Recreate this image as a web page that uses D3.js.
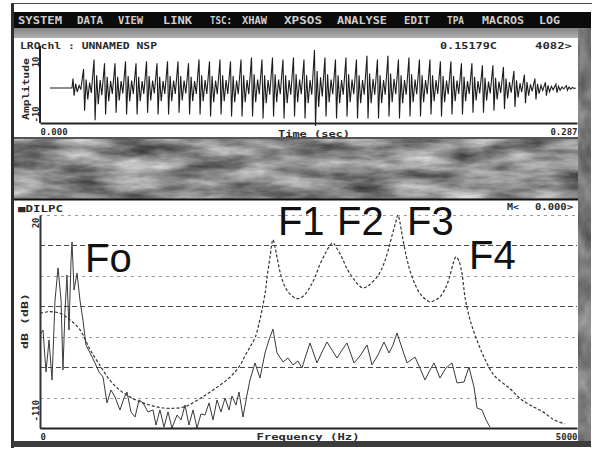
<!DOCTYPE html>
<html><head><meta charset="utf-8">
<script src="https://cdn.jsdelivr.net/npm/d3@7"></script>
<style>html,body{margin:0;padding:0;background:#fff;overflow:hidden}</style>
</head><body><svg id="c" width="597" height="454"></svg>
<script>
// ---------- data ----------
const menuItems = ["SYSTEM","DATA","VIEW","LINK","TSC:","XHAW","XPSOS","ANALYSE","EDIT","TPA","MACROS","LOG"];

// waveform: time axis (s), amplitude axis, per-cycle peak / trough amplitude
const timeDomain = [0, 0.287];
const ampDomain = [-10, 10];
const timeTicks = ["0.000", "0.287"];
const ampTicks = ["10", "-10"];
const waveStart = 0.0053;
const onsetTime = 0.0171;
const periodTime = 0.00561;
const cycleHigh = [2.5,5,7.5,6.5,6.5,7,6.5,7,6.5,7,7,6.5,7.5,7,7.5,7,7.5,8,7.5,8,7.5,8,7.5,10,8,7.5,8,7.5,8.5,7.5,8.5,7.5,8,7.5,7.5,7,7,6.5,6.5,6,6,5.5,4.5,3.5,2.5,1.5,1,0.6];
const cycleLow = [-2,-6,-8.5,-7,-6.5,-7,-7,-6.5,-7,-7,-6.5,-7,-7,-7.5,-7,-7.5,-7.5,-7.5,-8,-7.5,-8,-7.5,-8,-10,-7.5,-8,-7.5,-8,-8,-8,-7.5,-8,-7.5,-7.5,-7,-7.5,-7,-7,-6.5,-6.5,-6,-5.5,-5,-4,-3,-2,-1.2,-0.6];
// one glottal period: [phase, relative excursion]
const cycleShape = [[0.1,1],[0.2,-1],[0.35,0.45],[0.5,-0.5],[0.68,0.28],[0.84,-0.22]];

// spectrum: frequency (Hz), level (dB)
const freqDomain = [0, 5000];
const levelDomain = [-110, 20];
const freqTicks = ["0", "5000"];
const levelTicks = ["20", "-110"];
const specFreq = [0,28,56,84,112,140,168,196,214,233,251,270,289,298,317,345,372,400,428,466,512,549,587,624,661,698,745,782,810,847,885,922,959,1006,1052,1080,1117,1155,1192,1229,1276,1313,1350,1387,1425,1462,1499,1536,1574,1611,1648,1685,1723,1760,1788,1825,1853,1890,1927,1955,2002,2048,2095,2132,2169,2207,2263,2309,2356,2402,2439,2477,2514,2579,2626,2672,2719,2765,2812,2858,2924,2980,3045,3091,3147,3203,3250,3287,3324,3361,3417,3454,3492,3538,3585,3631,3669,3724,3780,3836,3883,3948,3994,4041,4069,4116,4153,4190];
const specLevel = [-53.2,-50.2,-75.8,-56.3,-80.7,-31.9,-12.3,-31.9,-74.6,-38,-16.6,-50.2,-7.5,3.5,-25.8,-15.4,-31.9,-44.1,-59.3,-64.2,-70.3,-75.8,-78.9,-94.7,-86.8,-91.1,-99,-91.7,-88,-100.2,-103.3,-92.9,-94.7,-100.2,-99,-108.2,-99,-109.4,-100.2,-110,-102.1,-105.1,-96,-108.2,-99,-110,-101.4,-102.1,-94.7,-105.1,-92.9,-100.2,-91.7,-99,-90.5,-96,-88,-103.3,-89.9,-80.7,-70.3,-79.5,-64.2,-56.3,-49.6,-64.2,-69.7,-67.3,-71.5,-69.1,-73.4,-65.4,-58.1,-70.3,-63.6,-57.5,-62.4,-67.3,-62.4,-58.1,-70.3,-66,-59.3,-71.5,-65.4,-57.5,-64.2,-59.3,-52,-59.3,-70.3,-68.5,-66.7,-73.4,-80.7,-74.6,-70.3,-79.5,-73.4,-70.3,-82.5,-81.9,-72.8,-85,-97.8,-99,-105.1,-109.4];
// LPC envelope
const lpcFreq = [0,90,186,279,372,465,560,652,745,838,930,1024,1117,1210,1350,1490,1629,1769,1860,1909,1960,2002,2040,2067,2100,2114,2141,2169,2190,2207,2253,2300,2360,2402,2460,2514,2560,2607,2660,2700,2728,2760,2812,2860,2920,2970,3007,3060,3147,3200,3240,3280,3310,3333,3350,3371,3410,3445,3490,3538,3600,3631,3680,3724,3780,3817,3850,3873,3900,3930,3957,4004,4078,4143,4230,4376,4470,4562,4680,4786,4888];
const lpcLevel = [-40,-39,-40,-44,-50,-62,-72,-81,-87,-91,-94,-96,-97.5,-98,-97,-92,-86,-79,-72,-66,-60,-55,-46,-38,-26,-18,-6,5,0,-6,-19,-26,-30,-31,-29,-24,-18,-10,-3,1.5,3,0,-6,-13,-19,-23,-24.5,-23,-17,-10,-2,8,15,20,16,8,-5,-14,-22,-28,-32,-33,-32,-30,-24,-17,-9,-5.5,-8,-16,-30,-44,-58,-68,-78,-86,-92,-96,-100,-105,-107.5];
const formantNames = ["Fo","F1","F2","F3","F4"];
const formantFreq = [298,2169,2728,3333,3873];
const formantLevel = [3.5,5,3,20,-5.5];

// ---------- drawing ----------
const svg = d3.select("#c");
const defs = svg.append("defs");
const f = defs.append("filter").attr("id","mottle").attr("x",0).attr("y",0).attr("width","100%").attr("height","100%")
  .attr("color-interpolation-filters","sRGB");
f.append("feTurbulence").attr("type","fractalNoise").attr("baseFrequency","0.018 0.07").attr("numOctaves",5).attr("seed",11);
f.append("feColorMatrix").attr("type","matrix")
  .attr("values","0.85 0 0 0 0.12  0.85 0 0 0 0.12  0.85 0 0 0 0.12  0 0 0 0 1");
const f2 = defs.append("filter").attr("id","mottleDark").attr("x",0).attr("y",0).attr("width","100%").attr("height","100%")
  .attr("color-interpolation-filters","sRGB");
f2.append("feTurbulence").attr("type","fractalNoise").attr("baseFrequency","0.05 0.03").attr("numOctaves",4).attr("seed",5);
f2.append("feColorMatrix").attr("type","matrix")
  .attr("values","0.45 0 0 0 0.25  0.45 0 0 0 0.25  0.45 0 0 0 0.25  0 0 0 0 1");
const g2 = defs.append("linearGradient").attr("id","strip").attr("x1",0).attr("y1",0).attr("x2",0).attr("y2",1);
g2.append("stop").attr("offset","0%").attr("stop-color","#858585");
g2.append("stop").attr("offset","100%").attr("stop-color","#b0b0b0");

svg.append("rect").attr("width",597).attr("height",454).attr("fill","#fff");
// window frame
svg.append("line").attr("x1",11).attr("x2",592).attr("y1",3.5).attr("y2",3.5).attr("stroke","#444");
svg.append("rect").attr("x",12).attr("y",28).attr("width",579).attr("height",10).attr("fill","url(#strip)");
svg.append("rect").attr("x",12).attr("y",138).attr("width",579).attr("height",61).attr("filter","url(#mottle)");
svg.append("rect").attr("x",578).attr("y",28).attr("width",13).attr("height",419).attr("filter","url(#mottleDark)");
svg.append("rect").attr("x",12).attr("y",12).attr("width",579).attr("height",16).attr("fill","#0b0b0b");
svg.append("rect").attr("x",11).attr("y",4).attr("width",3).attr("height",444).attr("fill","#2e2e2e");
svg.append("rect").attr("x",12).attr("y",441).attr("width",579).attr("height",6).attr("fill","#3c3c3c");

// menu
const menuSpans = [[18,62],[77,103],[118,143],[163,192],[210,232],[242,267],[284,322],[337,387],[404,430],[447,464],[482,524],[539,560]];
svg.append("g").selectAll("text").data(menuItems).join("text")
  .attr("x",(d,i)=>menuSpans[i][0]).attr("y",24)
  .attr("textLength",(d,i)=>menuSpans[i][1]-menuSpans[i][0]).attr("lengthAdjust","spacingAndGlyphs")
  .attr("font-family","DejaVu Sans Mono").attr("font-weight","bold").attr("font-size",10)
  .attr("fill","#cfcfcf").text(d=>d);

// panels
svg.append("rect").attr("x",14).attr("y",38).attr("width",564).attr("height",99).attr("fill","#fff");
svg.append("line").attr("x1",14).attr("x2",578).attr("y1",138).attr("y2",138).attr("stroke","#555").attr("stroke-width",2);
svg.append("rect").attr("x",14).attr("y",200).attr("width",564).attr("height",241).attr("fill","#fff");
svg.append("line").attr("x1",14).attr("x2",578).attr("y1",199.5).attr("y2",199.5).attr("stroke","#111").attr("stroke-width",2);

function small(x,y,txt,len,anchor){
  const t = svg.append("text").attr("x",x).attr("y",y)
    .attr("font-family","DejaVu Sans Mono").attr("font-weight","bold").attr("font-size",9)
    .attr("fill","#2a2a2a").attr("text-anchor",anchor||"start").text(txt);
  if(len) t.attr("textLength",len).attr("lengthAdjust","spacingAndGlyphs");
  return t;
}
function styleTicks(sel){
  sel.attr("font-family","DejaVu Sans Mono").attr("font-weight","bold").attr("font-size",9).attr("fill","#2a2a2a");
}

// ----- waveform panel -----
const xT = d3.scaleLinear().domain(timeDomain).range([40,577]);
const yT = d3.scaleLinear().domain(ampDomain).range([126,50]);
small(20,49,"LROchl : UNNAMED NSP",137);
small(440,49,"0.15179C",57);
small(535,49,"4082>",37);

const wavePts = [[waveStart,0],[onsetTime,0]];
cycleHigh.forEach((hi,i)=>{
  const lo = cycleLow[i], t0 = onsetTime + i*periodTime;
  cycleShape.forEach(([ph,rel])=>{
    wavePts.push([t0+ph*periodTime, rel>=0 ? rel*hi : -rel*lo]);
  });
});
wavePts.push([onsetTime+cycleHigh.length*periodTime,0]);
svg.append("path").datum(wavePts)
  .attr("d",d3.line().x(d=>xT(d[0])).y(d=>yT(d[1])))
  .attr("fill","none").attr("stroke","#1c1c1c").attr("stroke-width",1.1);

const axT = svg.append("g").attr("transform","translate(0,123)")
  .call(d3.axisBottom(xT).tickValues(timeDomain).tickSize(0).tickFormat((d,i)=>timeTicks[i]));
axT.select(".domain").attr("stroke","#222").attr("stroke-width",2);
styleTicks(axT.selectAll("text").attr("dy","1.05em").attr("text-anchor",(d,i)=>i===0?"start":"end"));
small(314,137,"Time (sec)",72,"middle");
const ayT = svg.append("g").attr("transform","translate(40,0)")
  .call(d3.axisLeft(yT).tickValues(ampDomain.slice().reverse()).tickSize(0).tickFormat((d,i)=>ampTicks[i]));
ayT.select(".domain").attr("stroke","#222").attr("stroke-width",2).attr("d","M0,46V123");
styleTicks(ayT.selectAll("text").attr("x",null).attr("dy",null)
  .attr("transform",(d,i)=>i===0?"translate(-1,6) rotate(-90)":"translate(-1,-4) rotate(-90)")
  .attr("text-anchor",(d,i)=>i===0?"end":"start"));
small(0,0,"Amplitude",62,"middle").attr("transform","translate(29,89) rotate(-90)");

// ----- spectrum panel -----
const xF = d3.scaleLinear().domain(freqDomain).range([40,577]);
const yF = d3.scaleLinear().domain(levelDomain).range([428,215]);
small(18,212,"\u25A0DILPC",45);
small(507,210,"M<",12);
small(535,210,"0.000>",38);

const gridDivisions = 7;
const gridLevels = d3.range(gridDivisions+1).map(k=>levelDomain[1]-k*(levelDomain[1]-levelDomain[0])/gridDivisions);
svg.append("g").selectAll("line").data(gridLevels).join("line")
  .attr("x1",40).attr("x2",577).attr("y1",d=>Math.round(yF(d))+0.5).attr("y2",d=>Math.round(yF(d))+0.5)
  .attr("stroke",(d,i)=>i%2===1?"#4a4a4a":"#9a9a9a").attr("stroke-width",1.2)
  .attr("stroke-dasharray",(d,i)=>i%2===1?"5,3":"3,4");

svg.append("path").datum(d3.zip(specFreq,specLevel))
  .attr("d",d3.line().x(d=>xF(d[0])).y(d=>yF(d[1])))
  .attr("fill","none").attr("stroke","#3a3a3a").attr("stroke-width",1);
svg.append("path").datum(d3.zip(lpcFreq,lpcLevel))
  .attr("d",d3.line().curve(d3.curveCatmullRom).x(d=>xF(d[0])).y(d=>yF(d[1])))
  .attr("fill","none").attr("stroke","#333").attr("stroke-width",1.2).attr("stroke-dasharray","3,2");

const axF = svg.append("g").attr("transform","translate(0,428)")
  .call(d3.axisBottom(xF).tickValues(freqDomain).tickSize(0).tickFormat((d,i)=>freqTicks[i]));
axF.select(".domain").attr("stroke","#222").attr("stroke-width",2);
styleTicks(axF.selectAll("text").attr("dy","0.95em").attr("text-anchor",(d,i)=>i===0?"start":"end"));
small(308,440,"Frequency (Hz)",103,"middle");
const ayF = svg.append("g").attr("transform","translate(40,0)")
  .call(d3.axisLeft(yF).tickValues(levelDomain.slice().reverse()).tickSize(0).tickFormat((d,i)=>levelTicks[i]));
ayF.select(".domain").attr("stroke","#333").attr("stroke-width",2);
styleTicks(ayF.selectAll("text").attr("x",null).attr("dy",null)
  .attr("transform",(d,i)=>i===0?"translate(-1,2) rotate(-90)":"translate(-1,-7) rotate(-90)")
  .attr("text-anchor",(d,i)=>i===0?"end":"start"));
small(0,0,"dB (dB)",56,"middle").attr("transform","translate(28,321) rotate(-90)");

// formant labels beside their peaks; offsets in px from each peak
const labelOffset = [[13,30],[5,-5],[4,-8],[9,20],[13,12]];
svg.append("g").selectAll("text").data(formantNames).join("text")
  .attr("x",(d,i)=>xF(formantFreq[i])+labelOffset[i][0])
  .attr("y",(d,i)=>yF(formantLevel[i])+labelOffset[i][1])
  .attr("font-family","Liberation Sans").attr("font-size",40).attr("fill","#111").text(d=>d);
</script></body></html>
